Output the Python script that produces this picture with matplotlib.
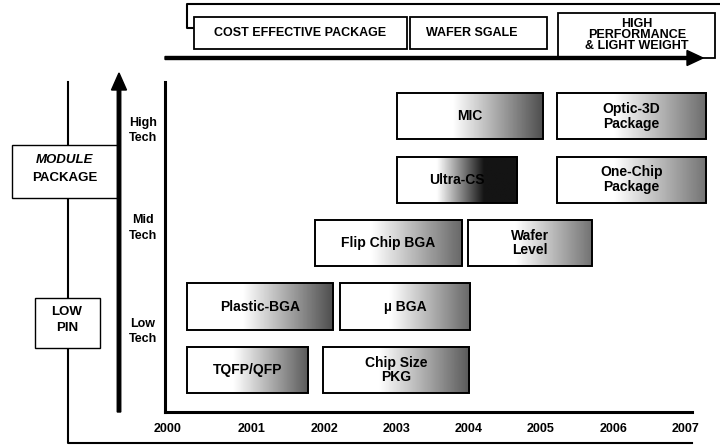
import numpy as np
import matplotlib.pyplot as plt
from matplotlib.patches import Rectangle, FancyArrow

plt.rcParams['font.family'] = ['Liberation Sans', 'DejaVu Sans']
plt.rcParams['font.weight'] = 'bold'

# package technologies on the roadmap: label, start / end year, tech lane (0 = lowest)
packages = ["TQFP/QFP", "Chip Size\nPKG", "Plastic-BGA", "\u00b5 BGA",
            "Flip Chip BGA", "Wafer\nLevel", "Ultra-CS", "One-Chip\nPackage",
            "MIC", "Optic-3D\nPackage"]
starts = [2000.10, 2001.98, 2000.10, 2002.22, 2001.87, 2003.99, 2003.01, 2005.22, 2003.01, 2005.22]
ends = [2001.78, 2004.01, 2002.12, 2004.02, 2003.91, 2005.70, 2004.67, 2007.29, 2005.03, 2007.29]
lanes = [0, 0, 1, 1, 2, 2, 3, 3, 4, 4]

years = [2000, 2001, 2002, 2003, 2004, 2005, 2006, 2007]
tech_levels = ["Low\nTech", "Mid\nTech", "High\nTech"]
tech_pos = [0.66, 2.29, 3.83]

# trend headings along the top arrow
trends = ["COST EFFECTIVE PACKAGE", "WAFER SGALE", "HIGH\nPERFORMANCE\n& LIGHT WEIGHT"]
side_labels = ["MODULE", "PACKAGE", "LOW\nPIN"]

# darkness reached at the right end of each box's shading
shade_end = [0.35, 0.35, 0.30, 0.40, 0.40, 0.45, 0.08, 0.45, 0.30, 0.42]
BOX_H = 0.73

fig = plt.figure(figsize=(7.2, 4.45), dpi=100)

# overlay in pixel units for the frame lines, arrows and side boxes
ov = fig.add_axes([0, 0, 1, 1])
ov.set_xlim(0, 720)
ov.set_ylim(445, 0)
ov.axis('off')

ov.plot([68, 68, 692], [82, 443, 443], color='k', lw=1.5, zorder=1)
ov.add_patch(FancyArrow(119, 412, 0, 73 - 412, width=3.5, head_width=15, head_length=17,
                        length_includes_head=True, color='k', zorder=3))
ov.plot([720, 187, 187, 194], [4, 4, 28, 28], color='k', lw=1.5, zorder=1)

for (x0, y0, x1, y1) in [(194, 17, 407, 49), (410, 17, 547, 49), (558, 13, 715, 58)]:
    ov.add_patch(Rectangle((x0, y0), x1 - x0, y1 - y0, fc='white', ec='k', lw=1.3, zorder=2))
ov.add_patch(FancyArrow(165, 58, 703 - 165, 0, width=3, head_width=15, head_length=16,
                        length_includes_head=True, color='k', zorder=3))
ov.text(300, 33, trends[0], ha='center', va='center', fontsize=9)
ov.text(472, 33, trends[1], ha='center', va='center', fontsize=9)
ov.text(637, 35, trends[2], ha='center', va='center', fontsize=9, linespacing=0.85)

ov.add_patch(Rectangle((12, 145), 106, 53, fc='white', ec='k', lw=1.0, zorder=2))
ov.add_patch(Rectangle((35, 298), 65, 50, fc='white', ec='k', lw=1.0, zorder=2))
ov.text(65, 160, side_labels[0], ha='center', va='center', fontsize=9.5, style='italic', zorder=4)
ov.text(65, 178, side_labels[1], ha='center', va='center', fontsize=9.5, zorder=4)
ov.text(67, 320, side_labels[2], ha='center', va='center', fontsize=9.5, linespacing=1.4, zorder=4)

# roadmap axes
ax = fig.add_axes([165 / 720, 33 / 445, 527 / 720, 330 / 445])
ax.patch.set_visible(False)

t = np.linspace(0, 1, 256)
for label, x0, x1, lane, dark in zip(packages, starts, ends, lanes, shade_end):
    if dark < 0.2:
        grad = np.interp(t, [0, 0.33, 0.72, 1], [1, 1, dark, dark])
    else:
        grad = np.interp(t, [0, 0.38, 1], [1, 1, dark])
    y0, y1 = lane - BOX_H / 2, lane + BOX_H / 2
    im = ax.imshow(grad[None, :], extent=(x0, x1, y0, y1), cmap='gray', vmin=0, vmax=1,
                   aspect='auto', interpolation='bilinear', zorder=2)
    im.set_clip_on(False)
    ax.add_patch(Rectangle((x0, y0), x1 - x0, BOX_H, fill=False, ec='k', lw=1.4,
                           clip_on=False, zorder=3))
    ax.text((x0 + x1) / 2, lane, label, ha='center', va='center', fontsize=10,
            linespacing=1.05, zorder=4, clip_on=False)

ax.set_xlim(1999.80, 2007.09)
ax.set_ylim(-0.662, 4.54)

for side in ['top', 'right']:
    ax.spines[side].set_visible(False)
for side in ['left', 'bottom']:
    ax.spines[side].set_linewidth(2.2)

label_pos = np.array(years, dtype=float)
label_pos[0] = 1999.84  # first label sits on the corner
ax.set_xticks(label_pos, [str(y) for y in years])
ax.set_xticks(years[1:-1], minor=True)
ax.tick_params(axis='x', which='major', length=0, pad=8, labelsize=9)
ax.tick_params(axis='x', which='minor', direction='in', length=5, width=1.8)

ax.set_yticks(tech_pos, tech_levels)
ax.tick_params(axis='y', length=0, pad=16, labelsize=9)
for lbl in ax.get_yticklabels():
    lbl.set_horizontalalignment('center')
    lbl.set_linespacing(1.4)

fig.savefig("out.png", dpi=100)
